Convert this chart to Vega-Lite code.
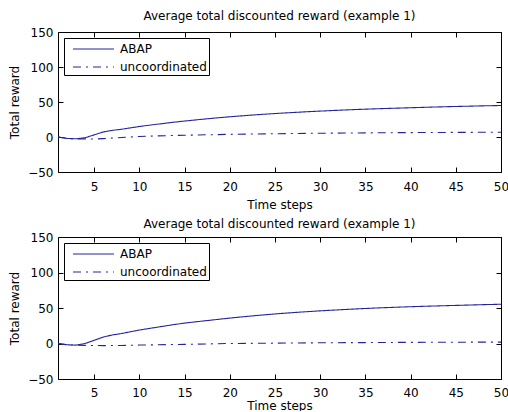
{
  "$schema": "https://vega.github.io/schema/vega-lite/v6.json",
  "padding": {"left": 8, "top": 10, "right": 5, "bottom": 0},
  "config": {
    "font": "DejaVu Sans",
    "view": {"stroke": null},
    "axis": {"grid": false, "domainColor": "#000", "tickColor": "#000", "labelColor": "#000", "titleColor": "#000", "labelFont": "DejaVu Sans", "titleFont": "DejaVu Sans", "labelFontSize": 12, "titleFontSize": 12, "titleFontWeight": "normal", "tickSize": -5},
    "title": {"font": "DejaVu Sans", "fontSize": 12, "fontWeight": "normal", "color": "#000"},
    "legend": {"labelFont": "DejaVu Sans", "labelFontSize": 12, "labelColor": "#000"}
  },
  "datasets": {
    "top": [
      {"t": 1, "series": "ABAP", "reward": 0}, {"t": 2, "series": "ABAP", "reward": -2}, {"t": 3, "series": "ABAP", "reward": -2.6}, {"t": 4, "series": "ABAP", "reward": -1}, {"t": 5, "series": "ABAP", "reward": 3}, {"t": 6, "series": "ABAP", "reward": 7.2}, {"t": 7, "series": "ABAP", "reward": 9.5}, {"t": 8, "series": "ABAP", "reward": 11}, {"t": 9, "series": "ABAP", "reward": 13}, {"t": 10, "series": "ABAP", "reward": 15}, {"t": 11, "series": "ABAP", "reward": 16.7}, {"t": 12, "series": "ABAP", "reward": 18.3}, {"t": 13, "series": "ABAP", "reward": 19.9}, {"t": 14, "series": "ABAP", "reward": 21.4}, {"t": 15, "series": "ABAP", "reward": 22.8}, {"t": 16, "series": "ABAP", "reward": 24.1}, {"t": 17, "series": "ABAP", "reward": 25.4}, {"t": 18, "series": "ABAP", "reward": 26.6}, {"t": 19, "series": "ABAP", "reward": 27.8}, {"t": 20, "series": "ABAP", "reward": 28.9}, {"t": 22, "series": "ABAP", "reward": 30.9}, {"t": 24, "series": "ABAP", "reward": 32.7}, {"t": 26, "series": "ABAP", "reward": 34.3}, {"t": 28, "series": "ABAP", "reward": 35.7}, {"t": 30, "series": "ABAP", "reward": 37}, {"t": 32, "series": "ABAP", "reward": 38.2}, {"t": 34, "series": "ABAP", "reward": 39.3}, {"t": 36, "series": "ABAP", "reward": 40.2}, {"t": 38, "series": "ABAP", "reward": 41}, {"t": 40, "series": "ABAP", "reward": 41.8}, {"t": 42, "series": "ABAP", "reward": 42.6}, {"t": 44, "series": "ABAP", "reward": 43.3}, {"t": 46, "series": "ABAP", "reward": 43.9}, {"t": 48, "series": "ABAP", "reward": 44.5}, {"t": 50, "series": "ABAP", "reward": 45},
      {"t": 1, "series": "uncoordinated", "reward": 0}, {"t": 2, "series": "uncoordinated", "reward": -2}, {"t": 3, "series": "uncoordinated", "reward": -2.6}, {"t": 4, "series": "uncoordinated", "reward": -2.7}, {"t": 5, "series": "uncoordinated", "reward": -2.9}, {"t": 6, "series": "uncoordinated", "reward": -2.3}, {"t": 7, "series": "uncoordinated", "reward": -1.5}, {"t": 8, "series": "uncoordinated", "reward": -0.8}, {"t": 9, "series": "uncoordinated", "reward": 0}, {"t": 10, "series": "uncoordinated", "reward": 0.8}, {"t": 12, "series": "uncoordinated", "reward": 1.6}, {"t": 15, "series": "uncoordinated", "reward": 2.5}, {"t": 20, "series": "uncoordinated", "reward": 3.8}, {"t": 25, "series": "uncoordinated", "reward": 4.7}, {"t": 30, "series": "uncoordinated", "reward": 5.4}, {"t": 35, "series": "uncoordinated", "reward": 5.9}, {"t": 40, "series": "uncoordinated", "reward": 6.3}, {"t": 45, "series": "uncoordinated", "reward": 6.6}, {"t": 50, "series": "uncoordinated", "reward": 6.8}
    ],
    "bottom": [
      {"t": 1, "series": "ABAP", "reward": 0}, {"t": 2, "series": "ABAP", "reward": -1.8}, {"t": 3, "series": "ABAP", "reward": -2.3}, {"t": 4, "series": "ABAP", "reward": 0}, {"t": 5, "series": "ABAP", "reward": 4.5}, {"t": 6, "series": "ABAP", "reward": 9}, {"t": 7, "series": "ABAP", "reward": 12}, {"t": 8, "series": "ABAP", "reward": 14}, {"t": 9, "series": "ABAP", "reward": 16.5}, {"t": 10, "series": "ABAP", "reward": 19}, {"t": 11, "series": "ABAP", "reward": 21}, {"t": 12, "series": "ABAP", "reward": 23}, {"t": 13, "series": "ABAP", "reward": 25}, {"t": 14, "series": "ABAP", "reward": 27}, {"t": 15, "series": "ABAP", "reward": 28.7}, {"t": 16, "series": "ABAP", "reward": 30.2}, {"t": 17, "series": "ABAP", "reward": 31.6}, {"t": 18, "series": "ABAP", "reward": 33}, {"t": 19, "series": "ABAP", "reward": 34.4}, {"t": 20, "series": "ABAP", "reward": 35.8}, {"t": 22, "series": "ABAP", "reward": 38.3}, {"t": 24, "series": "ABAP", "reward": 40.6}, {"t": 26, "series": "ABAP", "reward": 42.6}, {"t": 28, "series": "ABAP", "reward": 44.4}, {"t": 30, "series": "ABAP", "reward": 46}, {"t": 32, "series": "ABAP", "reward": 47.4}, {"t": 34, "series": "ABAP", "reward": 48.7}, {"t": 36, "series": "ABAP", "reward": 49.9}, {"t": 38, "series": "ABAP", "reward": 50.9}, {"t": 40, "series": "ABAP", "reward": 51.8}, {"t": 42, "series": "ABAP", "reward": 52.6}, {"t": 44, "series": "ABAP", "reward": 53.3}, {"t": 46, "series": "ABAP", "reward": 54}, {"t": 48, "series": "ABAP", "reward": 54.7}, {"t": 50, "series": "ABAP", "reward": 55.3},
      {"t": 1, "series": "uncoordinated", "reward": 0}, {"t": 2, "series": "uncoordinated", "reward": -1.8}, {"t": 3, "series": "uncoordinated", "reward": -2.3}, {"t": 4, "series": "uncoordinated", "reward": -2.6}, {"t": 5, "series": "uncoordinated", "reward": -2.8}, {"t": 6, "series": "uncoordinated", "reward": -3}, {"t": 8, "series": "uncoordinated", "reward": -2.8}, {"t": 10, "series": "uncoordinated", "reward": -2.2}, {"t": 15, "series": "uncoordinated", "reward": -1.2}, {"t": 20, "series": "uncoordinated", "reward": 0}, {"t": 25, "series": "uncoordinated", "reward": 0.5}, {"t": 30, "series": "uncoordinated", "reward": 1}, {"t": 35, "series": "uncoordinated", "reward": 1.3}, {"t": 40, "series": "uncoordinated", "reward": 1.6}, {"t": 45, "series": "uncoordinated", "reward": 1.8}, {"t": 50, "series": "uncoordinated", "reward": 2}
    ]
  },
  "vconcat": [
    {
      "title": {"text": "Average total discounted reward (example 1)", "offset": 3},
      "width": 443, "height": 140,
      "data": {"name": "top"},
      "layer": [
        {
          "mark": {"type": "line", "color": "#24249a", "strokeWidth": 1.1},
          "encoding": {
            "x": {"field": "t", "type": "quantitative", "scale": {"domain": [1, 50], "nice": false, "zero": false}, "axis": {"title": "Time steps", "values": [5, 10, 15, 20, 25, 30, 35, 40, 45, 50], "labelPadding": 14, "titlePadding": 7, "labelFlush": false}},
            "y": {"field": "reward", "type": "quantitative", "scale": {"domain": [-50, 150], "nice": false}, "axis": {"title": "Total reward", "values": [-50, 0, 50, 100, 150], "labelPadding": 10, "titlePadding": 6}},
            "strokeDash": {"field": "series", "type": "nominal", "scale": {"domain": ["ABAP", "uncoordinated"], "range": [[1, 0], [8, 5, 2, 5]]}, "legend": {"title": null, "orient": "top-left", "offset": 6, "strokeColor": "#000", "fillColor": "#fff", "padding": 2, "symbolType": "M-0.25,0L4.875,0", "symbolSize": 256, "symbolStrokeColor": "#24249a", "symbolStrokeWidth": 1.1, "rowPadding": 3, "labelOffset": 36, "cornerRadius": 0}}
          }
        },
        {
          "mark": {"type": "point", "opacity": 0},
          "encoding": {
            "x": {"field": "t", "type": "quantitative", "axis": {"orient": "top", "title": null, "labels": false, "values": [5, 10, 15, 20, 25, 30, 35, 40, 45, 50]}},
            "y": {"field": "reward", "type": "quantitative", "axis": {"orient": "right", "title": null, "labels": false, "values": [-50, 0, 50, 100, 150]}}
          }
        }
      ],
      "resolve": {"axis": {"x": "independent", "y": "independent"}}
    },
    {
      "title": {"text": "Average total discounted reward (example 1)", "offset": 0},
      "width": 443, "height": 142,
      "data": {"name": "bottom"},
      "layer": [
        {
          "mark": {"type": "line", "color": "#24249a", "strokeWidth": 1.1},
          "encoding": {
            "x": {"field": "t", "type": "quantitative", "scale": {"domain": [1, 50], "nice": false, "zero": false}, "axis": {"title": "Time steps", "values": [5, 10, 15, 20, 25, 30, 35, 40, 45, 50], "labelPadding": 13, "titlePadding": 2, "labelFlush": false}},
            "y": {"field": "reward", "type": "quantitative", "scale": {"domain": [-50, 150], "nice": false}, "axis": {"title": "Total reward", "values": [-50, 0, 50, 100, 150], "labelPadding": 10, "titlePadding": 6}},
            "strokeDash": {"field": "series", "type": "nominal", "scale": {"domain": ["ABAP", "uncoordinated"], "range": [[1, 0], [8, 5, 2, 5]]}, "legend": {"title": null, "orient": "top-left", "offset": 6, "strokeColor": "#000", "fillColor": "#fff", "padding": 2, "symbolType": "M-0.25,0L4.875,0", "symbolSize": 256, "symbolStrokeColor": "#24249a", "symbolStrokeWidth": 1.1, "rowPadding": 3, "labelOffset": 36, "cornerRadius": 0}}
          }
        },
        {
          "mark": {"type": "point", "opacity": 0},
          "encoding": {
            "x": {"field": "t", "type": "quantitative", "axis": {"orient": "top", "title": null, "labels": false, "values": [5, 10, 15, 20, 25, 30, 35, 40, 45, 50]}},
            "y": {"field": "reward", "type": "quantitative", "axis": {"orient": "right", "title": null, "labels": false, "values": [-50, 0, 50, 100, 150]}}
          }
        }
      ],
      "resolve": {"axis": {"x": "independent", "y": "independent"}}
    }
  ],
  "resolve": {"scale": {"strokeDash": "independent"}, "legend": {"strokeDash": "independent"}},
  "spacing": 8
}
